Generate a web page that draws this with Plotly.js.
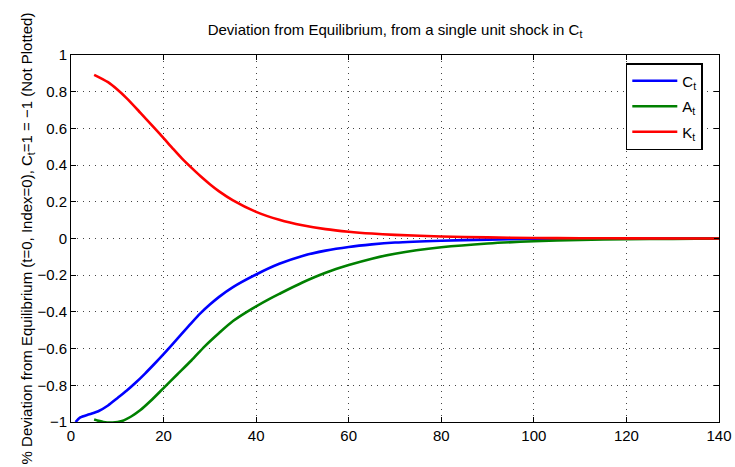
<!DOCTYPE html>
<html>
<head>
<meta charset="utf-8">
<script src="https://cdn.plot.ly/plotly-3.0.1.min.js"></script>
<style>html,body{margin:0;padding:0;background:#fff;}#chart{width:735px;height:467px;}</style>
</head>
<body>
<div id="chart"></div>
<script>
const cX = [1, 2, 4, 6, 8, 10, 12, 14, 16, 18, 20, 22, 24, 26, 28, 30, 32, 35, 40, 45, 50, 55, 60, 65, 70, 80, 90, 100, 110, 120, 140];
const cY = [-1.0, -0.975, -0.958, -0.94, -0.91, -0.87, -0.83, -0.785, -0.736, -0.684, -0.63, -0.574, -0.517, -0.461, -0.407, -0.36, -0.318, -0.265, -0.196, -0.138, -0.095, -0.066, -0.046, -0.032, -0.022, -0.012, -0.006, -0.003, -0.0015, -0.0007, 0];
const aX = [5, 7, 9, 11, 13, 15, 17, 20, 23, 26, 29, 32, 35, 38, 40, 43, 45, 50, 55, 60, 65, 70, 80, 90, 100, 110, 120, 130, 140];
const aY = [-0.987, -1.0, -1.003, -0.995, -0.97, -0.935, -0.89, -0.815, -0.74, -0.665, -0.585, -0.515, -0.45, -0.4, -0.37, -0.328, -0.302, -0.24, -0.187, -0.145, -0.11, -0.083, -0.048, -0.027, -0.015, -0.008, -0.004, -0.002, 0];
const kX = [5, 8, 10, 12, 15, 18, 20, 22, 24, 26, 28, 30, 32, 35, 40, 45, 50, 55, 60, 65, 70, 80, 90, 100, 110, 120, 140];
const kY = [0.892, 0.852, 0.812, 0.765, 0.685, 0.603, 0.547, 0.49, 0.435, 0.386, 0.339, 0.296, 0.257, 0.208, 0.145, 0.102, 0.072, 0.051, 0.037, 0.027, 0.02, 0.011, 0.006, 0.003, 0.0015, 0.0007, 0];
const names = ['C<sub>t</sub>', 'A<sub>t</sub>', 'K<sub>t</sub>'];
const colors = ['#0000ff', '#008000', '#ff0000'];
const xTicks = [0, 20, 40, 60, 80, 100, 120, 140];
const yTicks = [-1, -0.8, -0.6, -0.4, -0.2, 0, 0.2, 0.4, 0.6, 0.8, 1];

const series = [[cX, cY], [aX, aY], [kX, kY]];
const traces = series.map((s, i) => ({
  x: s[0], y: s[1], type: 'scatter', mode: 'lines', name: names[i], legendgroup: 'g' + i,
  line: {color: colors[i], width: 2.6, shape: 'spline', smoothing: 0.8}
}));

const axisCommon = {
  showline: true, linecolor: '#000', linewidth: 1, mirror: 'ticks',
  ticks: 'inside', ticklen: 5, tickcolor: '#000',
  showgrid: true, gridcolor: '#444', griddash: '1px,5px', gridwidth: 1,
  zeroline: false, tickfont: {size: 15, color: '#000'}
};

const layout = {
  width: 735, height: 467,
  margin: {l: 71, r: 16, t: 55, b: 45},
  paper_bgcolor: '#fff', plot_bgcolor: '#fff',
  font: {family: 'Liberation Sans, Arial, sans-serif', color: '#000'},
  title: {text: 'Deviation from Equilibrium, from a single unit shock in C<sub>t</sub>', font: {size: 15}, xref: 'paper', x: 0.5, xanchor: 'center', y: 0.936, yanchor: 'middle'},
  xaxis: Object.assign({}, axisCommon, {range: [0, 140], tickvals: xTicks, ticktext: xTicks.map(String)}),
  yaxis: Object.assign({}, axisCommon, {range: [-1, 1], tickvals: yTicks, ticktext: yTicks.map(v => v < 0 ? '\u2212' + String(-v) : String(v)),
    title: {text: '% Deviation from Equilibrium (t=0, Index=0), C<sub>t</sub>=1 = \u22121 (Not Plotted)', font: {size: 15}, standoff: 0}}),
  legend: {x: 0.975, xanchor: 'right', y: 0.978, yanchor: 'top', bordercolor: '#000', borderwidth: 1.5, bgcolor: '#fff', font: {size: 15}, tracegroupgap: 3, itemwidth: 45},
  showlegend: true
};

Plotly.newPlot('chart', traces, layout, {displayModeBar: false, staticPlot: true});
</script>
</body>
</html>
